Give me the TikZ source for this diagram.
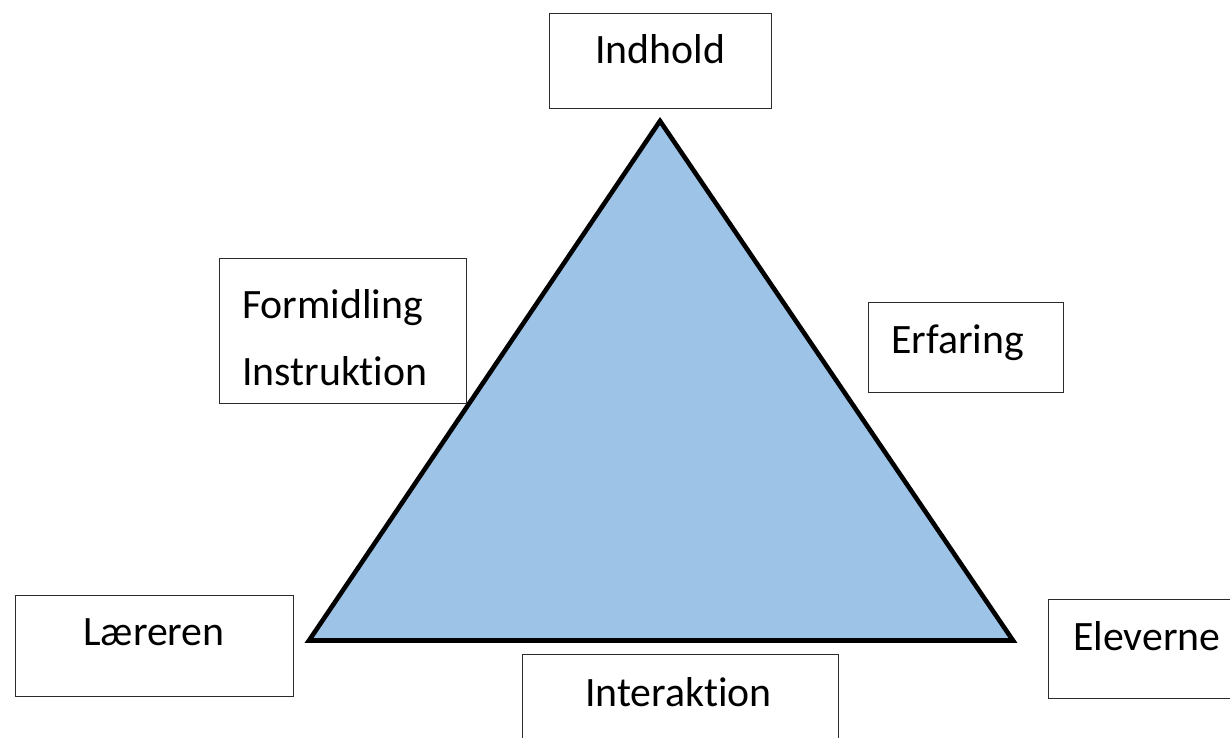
\documentclass[tikz,border=0pt]{standalone}
\usepackage{fontspec}
\setmainfont[Ligatures=NoCommon]{Carlito}
\definecolor{trifill}{HTML}{9DC3E6}
\definecolor{boxline}{HTML}{2B2B2B}
\begin{document}
\begin{tikzpicture}[x=1pt,y=-1pt,
  box/.style={draw=boxline,line width=1.4pt,fill=white,anchor=north west,inner sep=0pt},
  label/.style={anchor=base west,inner sep=0pt,font=\fontsize{41.8}{48}\selectfont},
  tri/.style={draw=black,line width=4.6pt,fill=trifill,line join=miter}]
\useasboundingbox (0,0) rectangle (1230,737);
\clip (0,0) rectangle (1230,737);
% white page
\fill[white] (0,0) rectangle (1230,737);
% triangle corners
\coordinate (top) at (660,121);
\coordinate (left) at (309,640.5);
\coordinate (right) at (1013,640.5);
\draw[tri] (top) -- (left) -- (right) -- cycle;
% boxes
\node[box,minimum width=222pt,minimum height=95pt] (bInd) at (549,13) {};
\node[box,minimum width=247pt,minimum height=145pt] (bForm) at (219,258) {};
\node[box,minimum width=195pt,minimum height=90pt] (bErf) at (868,302) {};
\node[box,minimum width=278pt,minimum height=101pt] (bLaer) at (15,595) {};
\node[box,minimum width=230pt,minimum height=99pt] (bElev) at (1048,599) {};
\node[box,minimum width=316pt,minimum height=120pt] (bInt) at (522,654) {};
% texts
\node[label] (tInd) at (595,63) {Indhold};
\node[label] (tForm) at (242,318) {Formidling};
\node[label] (tInstr) at (242,385) {Instruktion};
\node[label] (tErf) at (891,353) {Erfaring};
\node[label] (tLaer) at (83,645) {Læreren};
\node[label] (tElev) at (1073,650) {Eleverne};
\node[label] (tInt) at (585,706) {Interaktion};
\end{tikzpicture}
\end{document}
